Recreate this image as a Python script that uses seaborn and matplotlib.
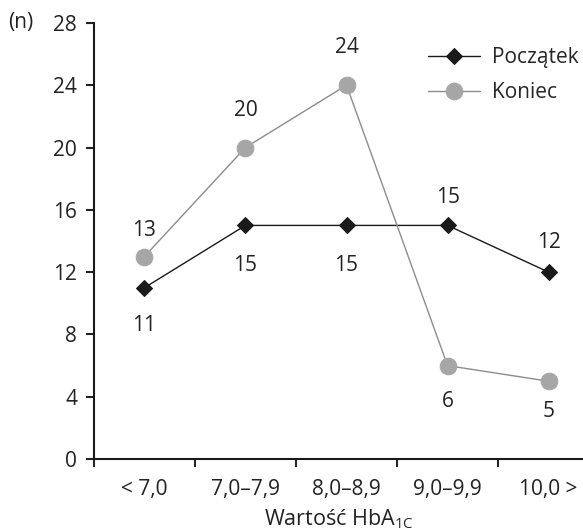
import pandas as pd
import numpy as np
import matplotlib
matplotlib.use('Agg')
import matplotlib.pyplot as plt
import seaborn as sns

categories = ['< 7,0', '7,0–7,9', '8,0–8,9', '9,0–9,9', '10,0 >']
poczatek = [11, 15, 15, 15, 12]
koniec = [13, 20, 24, 6, 5]
# label offsets in points (positive = above the point)
poczatek_off = [-27, -29, -29, 20, 21]
koniec_off = [19, 27, 27, -26, -22]

sns.set_style('ticks')
plt.rcParams['font.family'] = ['Open Sans', 'DejaVu Sans']
plt.rcParams['mathtext.fontset'] = 'custom'
plt.rcParams['mathtext.rm'] = 'Open Sans'

data = pd.DataFrame({
    'pos': list(range(len(categories))) * 2,
    'n': poczatek + koniec,
    'seria': ['Początek'] * len(categories) + ['Koniec'] * len(categories),
})

fig = plt.figure(figsize=(5.83, 5.32), dpi=100)
ax = fig.add_axes([0.161, 0.137, 0.839, 0.82])

sns.lineplot(data=data[data.seria == 'Początek'], x='pos', y='n', ax=ax,
             color='#1a1a1a', lw=1, marker='D', markersize=8,
             markeredgecolor='#1a1a1a', label='Początek')
sns.lineplot(data=data[data.seria == 'Koniec'], x='pos', y='n', ax=ax,
             color='#8c8c8c', lw=1, marker='o', markersize=12,
             markerfacecolor='#a6a6a6', markeredgecolor='#a6a6a6', label='Koniec')

for vals, offs in [(poczatek, poczatek_off), (koniec, koniec_off)]:
    for i, (v, o) in enumerate(zip(vals, offs)):
        ax.annotate(str(v), (i, v), xytext=(0, o), textcoords='offset points',
                    ha='center', va='center', fontsize=15, color='#222222')

ax.set_xlim(-0.5, 4.34)
ax.set_ylim(0, 28)
ax.set_yticks(range(0, 29, 4))
ax.set_xticks(range(len(categories)))
ax.set_xticklabels(categories)
ax.set_xticks(np.arange(-0.5, 4, 1), minor=True)
ax.tick_params(axis='x', which='major', length=0, pad=14, labelsize=15, colors='#222222')
ax.tick_params(axis='x', which='minor', length=6, width=1.5, direction='out')
ax.tick_params(axis='y', length=6, width=1.5, labelsize=15, colors='#222222', pad=6)
for s in ['top', 'right']:
    ax.spines[s].set_visible(False)
for s in ['left', 'bottom']:
    ax.spines[s].set_linewidth(1.5)
    ax.spines[s].set_color('#1a1a1a')

ax.set_xlabel(r'Wartość HbA$_{\mathrm{1C}}$', fontsize=15.5, color='#222222', labelpad=6)
ax.set_ylabel('')
fig.text(0.014, 0.957, '(n)', fontsize=15, va='center', color='#222222')

leg = ax.legend(loc='upper right', bbox_to_anchor=(1.03, 0.988), frameon=False,
                fontsize=15, handlelength=2.5, handletextpad=0.6, labelspacing=0.7)

fig.savefig('out.png', dpi=100)
